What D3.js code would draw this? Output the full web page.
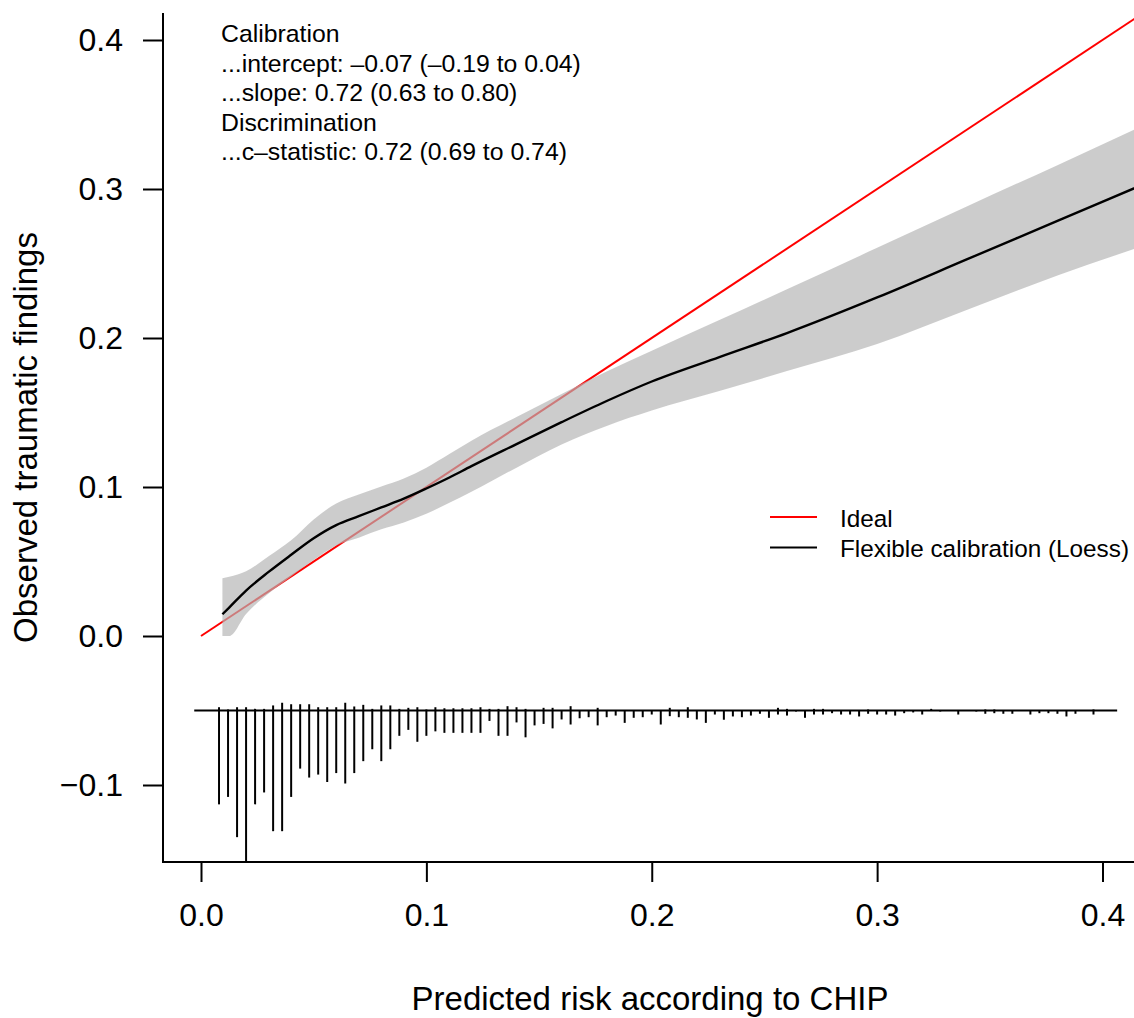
<!DOCTYPE html>
<html>
<head>
<meta charset="utf-8">
<script src="https://cdn.jsdelivr.net/npm/d3@7"></script>
<style>
body { margin: 0; background: #ffffff; }
svg { display: block; font-family: "Liberation Sans", Arial, Helvetica, sans-serif; }
</style>
</head>
<body>
<script>
// predicted-risk bins of the histogram under the curve
var binMids = [0.008,0.012,0.016,0.020,0.024,0.028,0.032,0.036,0.040,0.044,
	0.048,0.052,0.056,0.060,0.064,0.068,0.072,0.076,0.080,0.084,
	0.088,0.092,0.096,0.100,0.104,0.108,0.112,0.116,0.120,0.124,
	0.128,0.132,0.136,0.140,0.144,0.148,0.152,0.156,0.160,0.164,
	0.168,0.172,0.176,0.180,0.184,0.188,0.192,0.196,0.200,0.204,
	0.208,0.212,0.216,0.220,0.224,0.228,0.232,0.236,0.240,0.244,
	0.248,0.252,0.256,0.260,0.264,0.268,0.272,0.276,0.280,0.284,
	0.288,0.292,0.296,0.300,0.304,0.308,0.312,0.316,0.320,0.324,
	0.328,0.332,0.336,0.340,0.344,0.348,0.352,0.356,0.360,0.364,
	0.368,0.372,0.376,0.380,0.384,0.388,0.392,0.396];

// bar lengths (relative frequency), events upwards, non-events downwards
var eventFreq = [2.2,0.7,2.2,2.2,1.1,1.1,3.4,5.2,4.2,4.2,
	4.2,2.2,2.2,2.2,5.2,2.7,3.8,1.1,3.4,3.4,
	1.1,1.8,2.2,0.7,2.2,1.5,1.5,1.5,1.5,2.2,
	1.1,1.1,2.9,2.2,1.1,0,1.8,1.8,0,2.9,
	0,0,1.8,0,0,0,0,0,0,0,
	1.8,0,2.2,0,0,0,0,0,0,0,
	0,0,1.8,1.1,0,0,1.1,1.1,0,0,
	0,0,0.7,0,0,0,0,0,0,1.1,
	0,0,0,0,0,0.7,0.7,0,0,0,
	0,0,0,0,0,0,0,0.7];

var nonEventFreq = [63,58,85,102,63,55,81,81,58,39,
	45,43,48,42,49,42,34,26,34,26,
	17,13,21,17,14,15,15,15,15,15,
	7,17,17,8,18,10,9,12,6,9.4,
	5.2,4.5,10,4.5,3.4,8.3,4.9,4.5,2.7,9.4,
	3.8,4.5,4.9,6,8.3,2.7,6.2,4,4.5,3.4,
	2.2,4.9,2.7,3.4,0.7,4.9,2.7,2.7,1.8,2.7,
	2.7,4,2.2,2.7,2.7,3.4,1.8,1.3,2.7,0,
	0.7,0,2.7,0,0.7,2.2,1.8,2.2,2.2,0,
	2.7,1.8,1.8,2.2,4,2.2,0,2.7];

// loess calibration curve and its confidence band
var loessX = [0.0095,0.0125,0.02,0.03,0.04,0.05,0.06,0.07,0.08,0.09,0.10,0.11,0.12,0.14,0.16,0.18,0.20,0.23,0.26,0.30,0.34,0.38,0.42];
var loessY = [0.0146,0.0191,0.0305,0.0430,0.0545,0.0656,0.0744,0.0804,0.0863,0.0922,0.0990,0.1062,0.1140,0.1288,0.1435,0.1577,0.1708,0.1872,0.2033,0.2272,0.2529,0.2786,0.3043];
var ciUpper = [0.0388,0.0398,0.0435,0.0535,0.0642,0.0782,0.0890,0.0950,0.1004,0.1057,0.1130,0.1220,0.1311,0.1470,0.1625,0.1775,0.1915,0.2120,0.2327,0.2605,0.2885,0.3160,0.3440];
var ciLower = [0,0,0.0148,0.0285,0.0400,0.0510,0.0608,0.0660,0.0716,0.0762,0.0820,0.0893,0.0968,0.1130,0.1285,0.1410,0.1513,0.1644,0.1778,0.1960,0.2190,0.2420,0.2627];

var idealLine = [0, 0.5];
var histBase = -0.05;
var histRange = [-0.003, 0.4065];

var xTicks = [0, 0.1, 0.2, 0.3, 0.4];
var yTicks = [-0.1, 0, 0.1, 0.2, 0.3, 0.4];

var statLines = ["Calibration",
	"...intercept: \u20130.07 (\u20130.19 to 0.04)",
	"...slope: 0.72 (0.63 to 0.80)",
	"Discrimination",
	"...c\u2013statistic: 0.72 (0.69 to 0.74)"];
var legendItems = [{label: "Ideal", color: "#ff0000"},
	{label: "Flexible calibration (Loess)", color: "#000000"}];

var xTitle = "Predicted risk according to CHIP";
var yTitle = "Observed traumatic findings";

var width = 1134, height = 1018;
var plotLeft = 163, plotRight = 1137, plotTop = 13, plotBottom = 862;

var svg = d3.select("body").append("svg")
	.attr("width", width)
	.attr("height", height)
	.style("background", "#ffffff");

var x = d3.scaleLinear().domain([0, 0.4]).range([201, 1102.5]);
var y = d3.scaleLinear().domain([-0.1, 0.4]).range([785, 40]);
var hist = d3.scaleLinear().domain([0, 100]).range([0, 0.1]);

svg.append("clipPath").attr("id", "plotclip")
	.append("rect")
	.attr("x", plotLeft).attr("y", plotTop)
	.attr("width", plotRight - plotLeft).attr("height", plotBottom - plotTop);

var g = svg.append("g").attr("clip-path", "url(#plotclip)");

// ideal line (drawn first, band goes over it)
g.append("line")
	.attr("x1", x(idealLine[0])).attr("y1", y(idealLine[0]))
	.attr("x2", x(idealLine[1])).attr("y2", y(idealLine[1]))
	.attr("stroke", "#ff0000").attr("stroke-width", 2);

var bandData = loessX.map(function(d, i) { return {x: d, lo: ciLower[i], hi: ciUpper[i], y: loessY[i]}; });

var area = d3.area()
	.x(function(d) { return x(d.x); })
	.y0(function(d) { return y(d.lo); })
	.y1(function(d) { return y(d.hi); })
	.curve(d3.curveMonotoneX);

g.append("path")
	.datum(bandData)
	.attr("d", area)
	.attr("fill", "rgb(180,180,180)")
	.attr("fill-opacity", 0.68);

var line = d3.line()
	.x(function(d) { return x(d.x); })
	.y(function(d) { return y(d.y); })
	.curve(d3.curveMonotoneX);

g.append("path")
	.datum(bandData)
	.attr("d", line)
	.attr("fill", "none")
	.attr("stroke", "#000000")
	.attr("stroke-width", 2.4);

// histogram of predictions
g.append("line")
	.attr("x1", x(histRange[0])).attr("x2", x(histRange[1]))
	.attr("y1", y(histBase)).attr("y2", y(histBase))
	.attr("stroke", "#000").attr("stroke-width", 2);

g.selectAll("line.up")
	.data(binMids)
	.enter()
	.append("line")
	.attr("class", "up")
	.attr("x1", function(d) { return x(d); })
	.attr("x2", function(d) { return x(d); })
	.attr("y1", y(histBase))
	.attr("y2", function(d, i) { return y(histBase + hist(eventFreq[i])); })
	.attr("stroke", "#000").attr("stroke-width", 2);

g.selectAll("line.down")
	.data(binMids)
	.enter()
	.append("line")
	.attr("class", "down")
	.attr("x1", function(d) { return x(d); })
	.attr("x2", function(d) { return x(d); })
	.attr("y1", y(histBase))
	.attr("y2", function(d, i) { return y(histBase - hist(nonEventFreq[i])); })
	.attr("stroke", "#000").attr("stroke-width", 2);

// axes
var yAxis = d3.axisLeft(y)
	.tickValues(yTicks)
	.tickSize(20)
	.tickPadding(20)
	.tickFormat(d3.format(".1f"));

var yg = svg.append("g")
	.attr("transform", "translate(" + plotLeft + ",0)")
	.call(yAxis);

var xAxis = d3.axisBottom(x)
	.tickValues(xTicks)
	.tickSize(20)
	.tickPadding(21)
	.tickFormat(d3.format(".1f"));

var xg = svg.append("g")
	.attr("transform", "translate(0," + plotBottom + ")")
	.call(xAxis);

[yg, xg].forEach(function(a) {
	a.select(".domain").remove();
	a.selectAll(".tick line").attr("stroke", "#000").attr("stroke-width", 2);
	a.selectAll(".tick text")
		.attr("fill", "#000")
		.style("font-size", "32px")
		.style("font-family", "'Liberation Sans', Arial, Helvetica, sans-serif");
});

// L shaped frame
svg.append("path")
	.attr("d", "M" + plotLeft + "," + plotTop + "V" + plotBottom + "H" + plotRight)
	.attr("fill", "none")
	.attr("stroke", "#000")
	.attr("stroke-width", 2);

// titles
svg.append("text")
	.attr("x", (plotLeft + plotRight) / 2)
	.attr("y", 1010)
	.attr("text-anchor", "middle")
	.style("font-size", "33px")
	.text(xTitle);

svg.append("text")
	.attr("transform", "translate(37," + (plotTop + plotBottom) / 2 + ") rotate(-90)")
	.attr("text-anchor", "middle")
	.style("font-size", "33px")
	.text(yTitle);

// statistics text
svg.selectAll("text.stat")
	.data(statLines)
	.enter()
	.append("text")
	.attr("class", "stat")
	.attr("x", 221)
	.attr("y", function(d, i) { return 42 + i * 29.5; })
	.style("font-size", "24.8px")
	.text(function(d) { return d; });

// legend
var leg = svg.selectAll("g.legend")
	.data(legendItems)
	.enter()
	.append("g")
	.attr("class", "legend")
	.attr("transform", function(d, i) { return "translate(0," + (517 + i * 30.5) + ")"; });

leg.append("line")
	.attr("x1", 770).attr("x2", 817)
	.attr("y1", 0).attr("y2", 0)
	.attr("stroke", function(d) { return d.color; })
	.attr("stroke-width", 2);

leg.append("text")
	.attr("x", 840)
	.attr("y", 9.5)
	.style("font-size", "24.3px")
	.text(function(d) { return d.label; });
</script>
</body>
</html>
